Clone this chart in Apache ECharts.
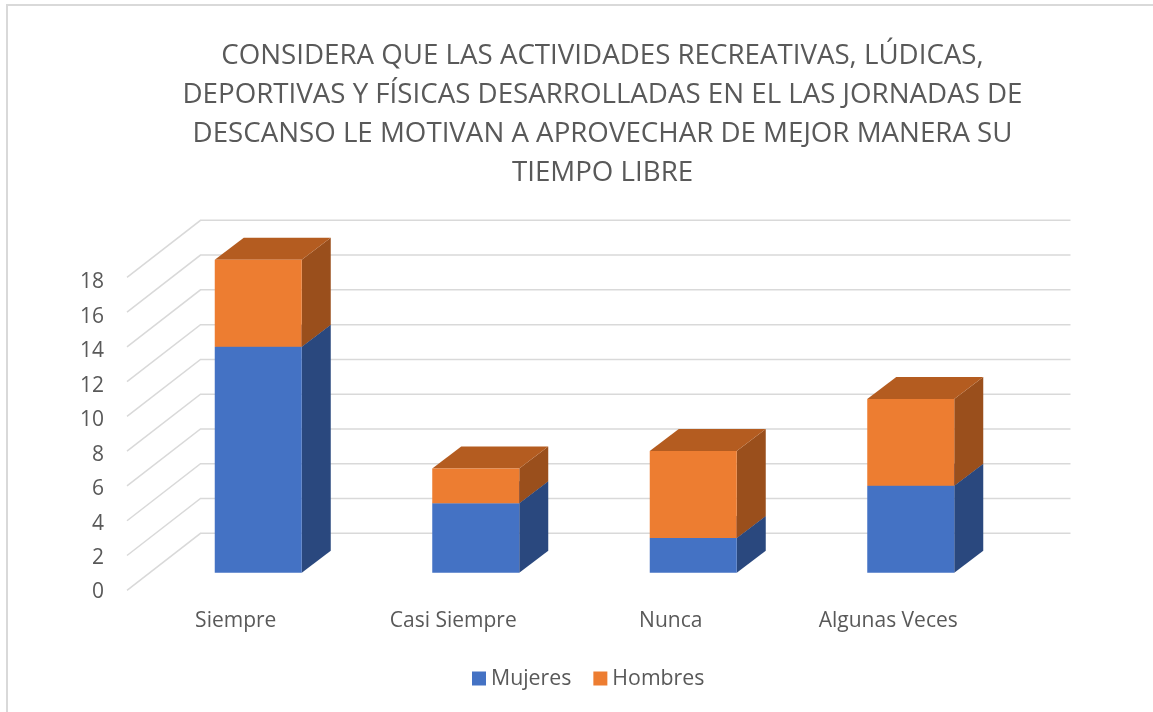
<!DOCTYPE html>
<html>
<head>
<meta charset="utf-8">
<script src="https://cdn.jsdelivr.net/npm/echarts@6/dist/echarts.min.js"></script>
<style>html,body{margin:0;padding:0;background:#fff}#c{width:1153px;height:712px}</style>
</head>
<body>
<div id="c"></div>
<script>
const titleLines = [
  'CONSIDERA QUE LAS ACTIVIDADES RECREATIVAS, LÚDICAS,',
  'DEPORTIVAS Y FÍSICAS DESARROLLADAS EN EL LAS JORNADAS DE',
  'DESCANSO LE MOTIVAN A APROVECHAR DE MEJOR MANERA SU',
  'TIEMPO LIBRE'
];
const categories = ['Siempre', 'Casi Siempre', 'Nunca', 'Algunas Veces'];
const mujeres = [13, 4, 2, 5];
const hombres = [5, 2, 5, 5];
const yTicks = [0, 2, 4, 6, 8, 10, 12, 14, 16, 18];

const FONT = '"Open Sans", sans-serif';
const TEXT = '#595959';
const DEPTH_X = 73.5, DEPTH_Y = 57;
const BAR_FX = 22.5, BAR_FY = 17.5, BAR_DX = 29, BAR_DY = 22;

function renderWall(params, api) {
  const cs = params.coordSys;
  const y = api.coord([0, api.value(1)])[1];
  return {
    type: 'polyline',
    silent: true,
    shape: { points: [[cs.x, y], [cs.x + DEPTH_X, y - DEPTH_Y], [cs.x + cs.width + DEPTH_X, y - DEPTH_Y]] },
    style: { stroke: '#D9D9D9', lineWidth: 1.5, fill: null }
  };
}

function makeBar(front, side, top) {
  return function (params, api) {
    const c = api.coord([api.value(0), api.value(1)]);
    const t = api.coord([api.value(0), api.value(2)]);
    const w = api.size([1, 0])[0] * 0.4;
    const l = c[0] + BAR_FX - w / 2, r = l + w;
    const b = c[1] - BAR_FY, u = t[1] - BAR_FY;
    return {
      type: 'group',
      children: [
        { type: 'polygon', shape: { points: [[r, b], [r + BAR_DX, b - BAR_DY], [r + BAR_DX, u - BAR_DY], [r, u]] }, style: { fill: side } },
        { type: 'polygon', shape: { points: [[l, u], [r, u], [r + BAR_DX, u - BAR_DY], [l + BAR_DX, u - BAR_DY]] }, style: { fill: top } },
        { type: 'rect', shape: { x: l, y: u, width: w, height: b - u }, style: { fill: front } }
      ]
    };
  };
}

const chart = echarts.init(document.getElementById('c'), null, { renderer: 'canvas' });
chart.setOption({
  animation: false,
  backgroundColor: '#fff',
  textStyle: { fontFamily: FONT },
  title: {
    text: titleLines.join('\n'),
    left: 597.5, textAlign: 'center', top: 31,
    textStyle: { fontFamily: FONT, fontSize: 27.7, fontWeight: 'normal', color: TEXT, lineHeight: 39.3 }
  },
  legend: {
    data: ['Mujeres', 'Hombres'],
    left: 472, top: 668, padding: 0,
    icon: 'rect', itemWidth: 14, itemHeight: 14, itemGap: 22,
    textStyle: { fontFamily: FONT, fontSize: 21.3, color: TEXT }
  },
  grid: [
    { left: 127, top: 277.3, width: 870, height: 313 },
    { left: 127, top: 282.5, width: 870, height: 310 }
  ],
  xAxis: [
    {
      type: 'category', data: categories, gridIndex: 0,
      axisLine: { show: false }, axisTick: { show: false },
      axisLabel: { fontFamily: FONT, fontSize: 21, color: TEXT, margin: 20 }
    },
    { type: 'category', data: categories, gridIndex: 1, show: false }
  ],
  yAxis: [
    {
      type: 'value', min: 0, max: 18, interval: 2, gridIndex: 0,
      axisLine: { show: false }, axisTick: { show: false }, splitLine: { show: false },
      axisLabel: { show: false }
    },
    {
      type: 'value', min: 0, max: 18, interval: 2, gridIndex: 1,
      axisLine: { show: false }, axisTick: { show: false }, splitLine: { show: false },
      axisLabel: { fontFamily: FONT, fontSize: 21, color: TEXT, margin: 23 }
    }
  ],
  graphic: [
    { type: 'polyline', silent: true, shape: { points: [[7, 712], [7, 5], [1153, 5]] }, style: { stroke: '#D9D9D9', lineWidth: 2, fill: null } }
  ],
  series: [
    { type: 'custom', name: 'wall', silent: true, renderItem: renderWall, data: yTicks.map(v => [0, v]), encode: { x: 0, y: 1 }, z: 1 },
    { type: 'custom', name: 'Mujeres', itemStyle: { color: '#4472C4' }, renderItem: makeBar('#4472C4', '#2A487E', '#335A9C'),
      data: mujeres.map((v, i) => [i, 0, v]), encode: { x: 0, y: [1, 2] }, z: 2 },
    { type: 'custom', name: 'Hombres', itemStyle: { color: '#ED7D31' }, renderItem: makeBar('#ED7D31', '#9A4F1C', '#B45C20'),
      data: hombres.map((v, i) => [i, mujeres[i], mujeres[i] + v]), encode: { x: 0, y: [1, 2] }, z: 3 }
  ]
});
</script>
</body>
</html>
